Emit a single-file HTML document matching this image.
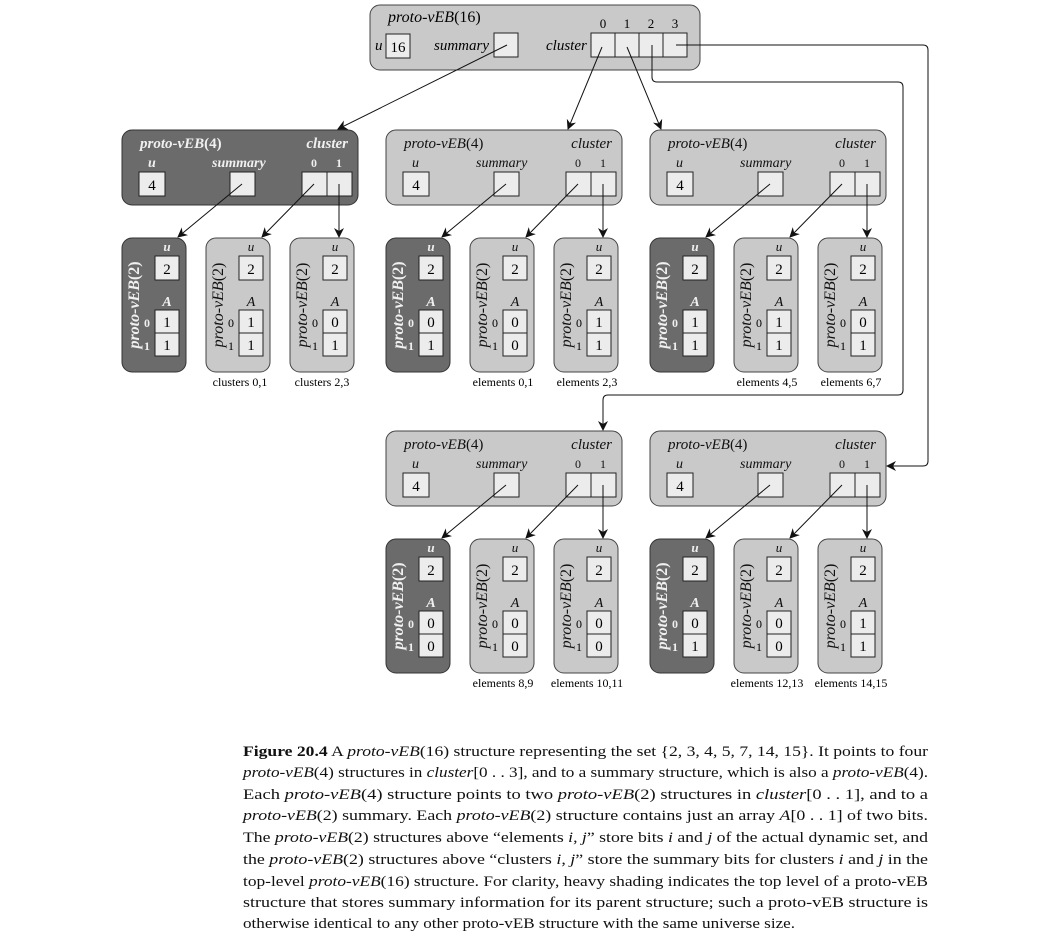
<!DOCTYPE html>
<html><head><meta charset="utf-8"><style>
html,body{margin:0;padding:0;background:#fff;}
svg{display:block;font-family:"Liberation Serif",serif;}
.it{font-style:italic}
</style></head><body>
<svg width="1050" height="936" viewBox="0 0 1050 936" xmlns="http://www.w3.org/2000/svg">
<defs>
<marker id="ah" markerWidth="10" markerHeight="10" refX="9" refY="5" orient="auto" markerUnits="userSpaceOnUse">
<path d="M0,0 L10,5 L0,10 L3,5 Z" fill="#111"/></marker>
<g id="cellL"><rect width="25" height="24" fill="#ececec" stroke="#222" stroke-width="1"/></g>
<g id="blkL">
<rect x="0" y="0" width="236" height="75" rx="10" fill="#c9c9c9" stroke="#444"/>
<text x="18" y="18" font-size="15" fill="#111"><tspan class="it">proto-vEB</tspan>(4)</text>
<text x="226" y="18" font-size="15" class="it" text-anchor="end" fill="#111">cluster</text>
<text x="26" y="37" font-size="14" class="it" fill="#111">u</text>
<text x="90" y="37" font-size="14" class="it" fill="#111">summary</text>
<text x="192" y="37" font-size="12" text-anchor="middle" fill="#111">0</text>
<text x="217" y="37" font-size="12" text-anchor="middle" fill="#111">1</text>
<rect x="17" y="42" width="26" height="24" fill="#ececec" stroke="#222"/>
<text x="30" y="60" font-size="15" text-anchor="middle">4</text>
<rect x="108" y="42" width="25" height="24" fill="#ececec" stroke="#222"/>
<rect x="180" y="42" width="25" height="24" fill="#ececec" stroke="#222"/>
<rect x="205" y="42" width="25" height="24" fill="#ececec" stroke="#222"/>
<line x1="120" y1="54" x2="56" y2="107" stroke="#111" marker-end="url(#ah)"/>
<line x1="192" y1="54" x2="140" y2="107" stroke="#111" marker-end="url(#ah)"/>
<line x1="217" y1="54" x2="217" y2="107" stroke="#111" marker-end="url(#ah)"/>
</g>
<g id="blkD">
<rect x="0" y="0" width="236" height="75" rx="10" fill="#6b6b6b" stroke="#333"/>
<text x="18" y="18" font-size="15" font-weight="bold" fill="#f0f0f0"><tspan class="it">proto-vEB</tspan>(4)</text>
<text x="226" y="18" font-size="15" font-weight="bold" class="it" text-anchor="end" fill="#f0f0f0">cluster</text>
<text x="26" y="37" font-size="14" font-weight="bold" class="it" fill="#f0f0f0">u</text>
<text x="90" y="37" font-size="14" font-weight="bold" class="it" fill="#f0f0f0">summary</text>
<text x="192" y="37" font-size="12" font-weight="bold" text-anchor="middle" fill="#f0f0f0">0</text>
<text x="217" y="37" font-size="12" font-weight="bold" text-anchor="middle" fill="#f0f0f0">1</text>
<rect x="17" y="42" width="26" height="24" fill="#ececec" stroke="#222"/>
<text x="30" y="60" font-size="15" text-anchor="middle">4</text>
<rect x="108" y="42" width="25" height="24" fill="#ececec" stroke="#222"/>
<rect x="180" y="42" width="25" height="24" fill="#ececec" stroke="#222"/>
<rect x="205" y="42" width="25" height="24" fill="#ececec" stroke="#222"/>
<line x1="120" y1="54" x2="56" y2="107" stroke="#111" marker-end="url(#ah)"/>
<line x1="192" y1="54" x2="140" y2="107" stroke="#111" marker-end="url(#ah)"/>
<line x1="217" y1="54" x2="217" y2="107" stroke="#111" marker-end="url(#ah)"/>
</g>
<g id="chL">
<rect x="0" y="0" width="64" height="134" rx="10" fill="#c9c9c9" stroke="#444"/>
<text x="45" y="13" font-size="13" class="it" text-anchor="middle" fill="#111">u</text>
<rect x="33" y="18" width="24" height="24" fill="#ececec" stroke="#222"/>
<text x="45" y="36" font-size="15" text-anchor="middle">2</text>
<text x="45" y="68" font-size="14" class="it" text-anchor="middle" fill="#111">A</text>
<rect x="33" y="72" width="24" height="23" fill="#ececec" stroke="#222"/>
<rect x="33" y="95" width="24" height="23" fill="#ececec" stroke="#222"/>
<text x="25" y="89" font-size="12" text-anchor="middle">0</text>
<text x="25" y="112" font-size="12" text-anchor="middle">1</text>
<text transform="translate(17,67) rotate(-90)" font-size="16" text-anchor="middle" fill="#111"><tspan class="it">proto-vEB</tspan>(2)</text>
</g>
<g id="chD">
<rect x="0" y="0" width="64" height="134" rx="10" fill="#6b6b6b" stroke="#333"/>
<text x="45" y="13" font-size="13" font-weight="bold" class="it" text-anchor="middle" fill="#f0f0f0">u</text>
<rect x="33" y="18" width="24" height="24" fill="#ececec" stroke="#222"/>
<text x="45" y="36" font-size="15" text-anchor="middle">2</text>
<text x="45" y="68" font-size="14" font-weight="bold" class="it" text-anchor="middle" fill="#f0f0f0">A</text>
<rect x="33" y="72" width="24" height="23" fill="#ececec" stroke="#222"/>
<rect x="33" y="95" width="24" height="23" fill="#ececec" stroke="#222"/>
<text x="25" y="89" font-size="12" font-weight="bold" text-anchor="middle" fill="#f0f0f0">0</text>
<text x="25" y="112" font-size="12" font-weight="bold" text-anchor="middle" fill="#f0f0f0">1</text>
<text transform="translate(17,67) rotate(-90)" font-size="16" font-weight="bold" text-anchor="middle" fill="#f0f0f0"><tspan class="it">proto-vEB</tspan>(2)</text>
</g>
</defs>

<!-- top -->
<rect x="370" y="5" width="330" height="65" rx="10" fill="#c9c9c9" stroke="#444"/>
<text x="388" y="22" font-size="16"><tspan class="it">proto-vEB</tspan>(16)</text>
<text x="375" y="50" font-size="15" class="it">u</text>
<rect x="386" y="34" width="24" height="24" fill="#ececec" stroke="#222"/>
<text x="398" y="52" font-size="15" text-anchor="middle">16</text>
<text x="434" y="50" font-size="15" class="it">summary</text>
<rect x="494" y="33" width="24" height="24" fill="#ececec" stroke="#222"/>
<text x="546" y="50" font-size="15" class="it">cluster</text>
<rect x="591" y="33" width="24" height="24" fill="#ececec" stroke="#222"/>
<rect x="615" y="33" width="24" height="24" fill="#ececec" stroke="#222"/>
<rect x="639" y="33" width="24" height="24" fill="#ececec" stroke="#222"/>
<rect x="663" y="33" width="24" height="24" fill="#ececec" stroke="#222"/>
<g font-size="13" text-anchor="middle"><text x="603" y="28">0</text><text x="627" y="28">1</text><text x="651" y="28">2</text><text x="675" y="28">3</text></g>

<line x1="507" y1="45" x2="338" y2="129" stroke="#111" marker-end="url(#ah)"/>
<line x1="602" y1="47" x2="568" y2="129" stroke="#111" marker-end="url(#ah)"/>
<line x1="627" y1="47" x2="661" y2="129" stroke="#111" marker-end="url(#ah)"/>
<path d="M652,45 L652,77 Q652,82 657,82 L898,82 Q903,82 903,87 L903,390 Q903,395 898,395 L608,395 Q603,395 603,400 L603,430" fill="none" stroke="#111" marker-end="url(#ah)"/>
<path d="M676,45 L923,45 Q928,45 928,50 L928,461 Q928,466 923,466 L887,466" fill="none" stroke="#111" marker-end="url(#ah)"/>

<!-- blocks -->
<use href="#blkD" x="122" y="130"/>
<use href="#blkL" x="386" y="130"/>
<use href="#blkL" x="650" y="130"/>
<use href="#blkL" x="386" y="431"/>
<use href="#blkL" x="650" y="431"/>

<!-- children row 1 -->
<use href="#chD" x="122" y="238"/><use href="#chL" x="206" y="238"/><use href="#chL" x="290" y="238"/>
<use href="#chD" x="386" y="238"/><use href="#chL" x="470" y="238"/><use href="#chL" x="554" y="238"/>
<use href="#chD" x="650" y="238"/><use href="#chL" x="734" y="238"/><use href="#chL" x="818" y="238"/>
<use href="#chD" x="386" y="539"/><use href="#chL" x="470" y="539"/><use href="#chL" x="554" y="539"/>
<use href="#chD" x="650" y="539"/><use href="#chL" x="734" y="539"/><use href="#chL" x="818" y="539"/>

<g font-size="15" text-anchor="middle">
<text x="167" y="327">1</text><text x="167" y="350">1</text>
<text x="251" y="327">1</text><text x="251" y="350">1</text>
<text x="335" y="327">0</text><text x="335" y="350">1</text>
<text x="431" y="327">0</text><text x="431" y="350">1</text>
<text x="515" y="327">0</text><text x="515" y="350">0</text>
<text x="599" y="327">1</text><text x="599" y="350">1</text>
<text x="695" y="327">1</text><text x="695" y="350">1</text>
<text x="779" y="327">1</text><text x="779" y="350">1</text>
<text x="863" y="327">0</text><text x="863" y="350">1</text>
<text x="431" y="628">0</text><text x="431" y="651">0</text>
<text x="515" y="628">0</text><text x="515" y="651">0</text>
<text x="599" y="628">0</text><text x="599" y="651">0</text>
<text x="695" y="628">0</text><text x="695" y="651">1</text>
<text x="779" y="628">0</text><text x="779" y="651">0</text>
<text x="863" y="628">1</text><text x="863" y="651">1</text>
</g>

<g font-size="12" text-anchor="middle">
<text x="240" y="386">clusters 0,1</text><text x="322" y="386">clusters 2,3</text>
<text x="503" y="386">elements 0,1</text><text x="587" y="386">elements 2,3</text>
<text x="767" y="386">elements 4,5</text><text x="851" y="386">elements 6,7</text>
<text x="503" y="687">elements 8,9</text><text x="587" y="687">elements 10,11</text>
<text x="767" y="687">elements 12,13</text><text x="851" y="687">elements 14,15</text>
</g>

<!-- caption -->
<g font-size="15" fill="#111">
<text x="243" y="756" textLength="685" lengthAdjust="spacingAndGlyphs"><tspan font-weight="bold">Figure 20.4</tspan>   A <tspan class="it">proto-vEB</tspan>(16) structure representing the set {2, 3, 4, 5, 7, 14, 15}. It points to four</text>
<text x="243" y="777" textLength="685" lengthAdjust="spacingAndGlyphs"><tspan class="it">proto-vEB</tspan>(4) structures in <tspan class="it">cluster</tspan>[0 . . 3], and to a summary structure, which is also a <tspan class="it">proto-vEB</tspan>(4).</text>
<text x="243" y="799" textLength="685" lengthAdjust="spacingAndGlyphs">Each <tspan class="it">proto-vEB</tspan>(4) structure points to two <tspan class="it">proto-vEB</tspan>(2) structures in <tspan class="it">cluster</tspan>[0 . . 1], and to a</text>
<text x="243" y="820" textLength="685" lengthAdjust="spacingAndGlyphs"><tspan class="it">proto-vEB</tspan>(2) summary.  Each <tspan class="it">proto-vEB</tspan>(2) structure contains just an array <tspan class="it">A</tspan>[0 . . 1] of two bits.</text>
<text x="243" y="842" textLength="685" lengthAdjust="spacingAndGlyphs">The <tspan class="it">proto-vEB</tspan>(2) structures above “elements <tspan class="it">i</tspan>, <tspan class="it">j</tspan>” store bits <tspan class="it">i</tspan> and <tspan class="it">j</tspan> of the actual dynamic set, and</text>
<text x="243" y="864" textLength="685" lengthAdjust="spacingAndGlyphs">the <tspan class="it">proto-vEB</tspan>(2) structures above “clusters <tspan class="it">i</tspan>, <tspan class="it">j</tspan>” store the summary bits for clusters <tspan class="it">i</tspan> and <tspan class="it">j</tspan> in the</text>
<text x="243" y="886" textLength="685" lengthAdjust="spacingAndGlyphs">top-level <tspan class="it">proto-vEB</tspan>(16) structure. For clarity, heavy shading indicates the top level of a proto-vEB</text>
<text x="243" y="907" textLength="685" lengthAdjust="spacingAndGlyphs">structure that stores summary information for its parent structure; such a proto-vEB structure is</text>
<text x="243" y="928" textLength="552" lengthAdjust="spacingAndGlyphs">otherwise identical to any other proto-vEB structure with the same universe size.</text>
</g>
</svg>
</body></html>
